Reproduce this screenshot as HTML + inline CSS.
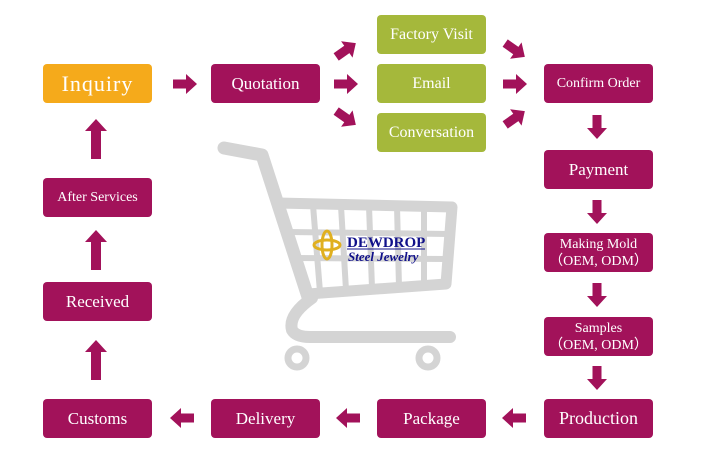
<!DOCTYPE html>
<html><head><style>
html,body{margin:0;padding:0;background:#fff;}
body{width:705px;height:450px;position:relative;overflow:hidden;font-family:"Liberation Serif",serif;}
.b{position:absolute;width:109px;height:39px;border-radius:4px;background:#a2125a;color:#fff;display:flex;align-items:center;justify-content:center;text-align:center;font-size:17px;line-height:17px;}
.g{background:#a5b83b;font-size:16px;}
.o{background:#f5aa1b;font-size:22px;letter-spacing:1px;}
.s{font-size:14px;}
svg{position:absolute;left:0;top:0;}
</style></head><body>
<svg width="705" height="450" viewBox="0 0 705 450">
<g stroke="#d4d4d4" fill="none" stroke-linecap="round" stroke-linejoin="round">
<path d="M224 148 L262 155 L308 297" stroke-width="13"/>
<path d="M278 203 L452 207 L446 284 L308 294" stroke-width="11"/>
<g stroke-width="6">
<path d="M288 232 L449 234 M296 258 L447 259"/>
<path d="M313 205 L320 292 M341 206 L346 290 M369 206 L372 288 M397 206 L399 287 M424 207 L424 285"/>
</g>
<path d="M312 298 Q288 315 292 330 Q296 337 310 337 L450 337" stroke-width="12"/>
<circle cx="297" cy="358" r="9" stroke-width="7"/>
<circle cx="428" cy="358" r="9" stroke-width="7"/>
</g>
<g fill="#a2125a">
<defs><path id="a" d="M-12 -4.5 L1 -4.5 L1 -10 L12 0 L1 10 L1 4.5 L-12 4.5Z"/>
<path id="u" d="M-5 20 L-5 -8 L-11 -8 L0 -20 L11 -8 L5 -8 L5 20Z"/></defs>
<use href="#a" transform="translate(185,84)"/>
<use href="#a" transform="translate(346,50) rotate(-35)"/>
<use href="#a" transform="translate(346,84)"/>
<use href="#a" transform="translate(346,118) rotate(35)"/>
<use href="#a" transform="translate(515,50) rotate(35)"/>
<use href="#a" transform="translate(515,84)"/>
<use href="#a" transform="translate(515,118) rotate(-35)"/>
<use href="#a" transform="translate(597,127) rotate(90)"/>
<use href="#a" transform="translate(597,212) rotate(90)"/>
<use href="#a" transform="translate(597,295) rotate(90)"/>
<use href="#a" transform="translate(597,378) rotate(90)"/>
<use href="#a" transform="translate(514,418) rotate(180)"/>
<use href="#a" transform="translate(348,418) rotate(180)"/>
<use href="#a" transform="translate(182,418) rotate(180)"/>
<use href="#u" transform="translate(96,360)"/>
<use href="#u" transform="translate(96,250)"/>
<use href="#u" transform="translate(96,139)"/>
</g>
<g transform="translate(327,245)">
<ellipse cx="0" cy="0" rx="13" ry="5" fill="none" stroke="#e0b020" stroke-width="3"/>
<ellipse cx="0" cy="0" rx="5" ry="14" fill="none" stroke="#e0b020" stroke-width="3"/>
</g>
<text x="347" y="247" font-family="Liberation Serif" font-weight="bold" font-size="15" fill="#10108a">DEWDROP</text>
<line x1="347" y1="249" x2="425" y2="249" stroke="#10108a" stroke-width="1"/>
<text x="348" y="261" font-family="Liberation Serif" font-weight="bold" font-style="italic" font-size="13" fill="#10108a">Steel Jewelry</text>
</svg>
<div class="b o" style="left:43px;top:64px">Inquiry</div>
<div class="b" style="left:211px;top:64px">Quotation</div>
<div class="b g" style="left:377px;top:15px">Factory Visit</div>
<div class="b g" style="left:377px;top:64px">Email</div>
<div class="b g" style="left:377px;top:113px">Conversation</div>
<div class="b s" style="left:544px;top:64px">Confirm Order</div>
<div class="b" style="left:544px;top:150px">Payment</div>
<div class="b s" style="left:544px;top:233px">Making Mold<br>（OEM, ODM）</div>
<div class="b s" style="left:544px;top:317px">Samples<br>（OEM, ODM）</div>
<div class="b" style="left:544px;top:399px;font-size:18px">Production</div>
<div class="b" style="left:377px;top:399px">Package</div>
<div class="b" style="left:211px;top:399px">Delivery</div>
<div class="b" style="left:43px;top:399px">Customs</div>
<div class="b" style="left:43px;top:282px">Received</div>
<div class="b s" style="left:43px;top:178px">After Services</div>
</body></html>
